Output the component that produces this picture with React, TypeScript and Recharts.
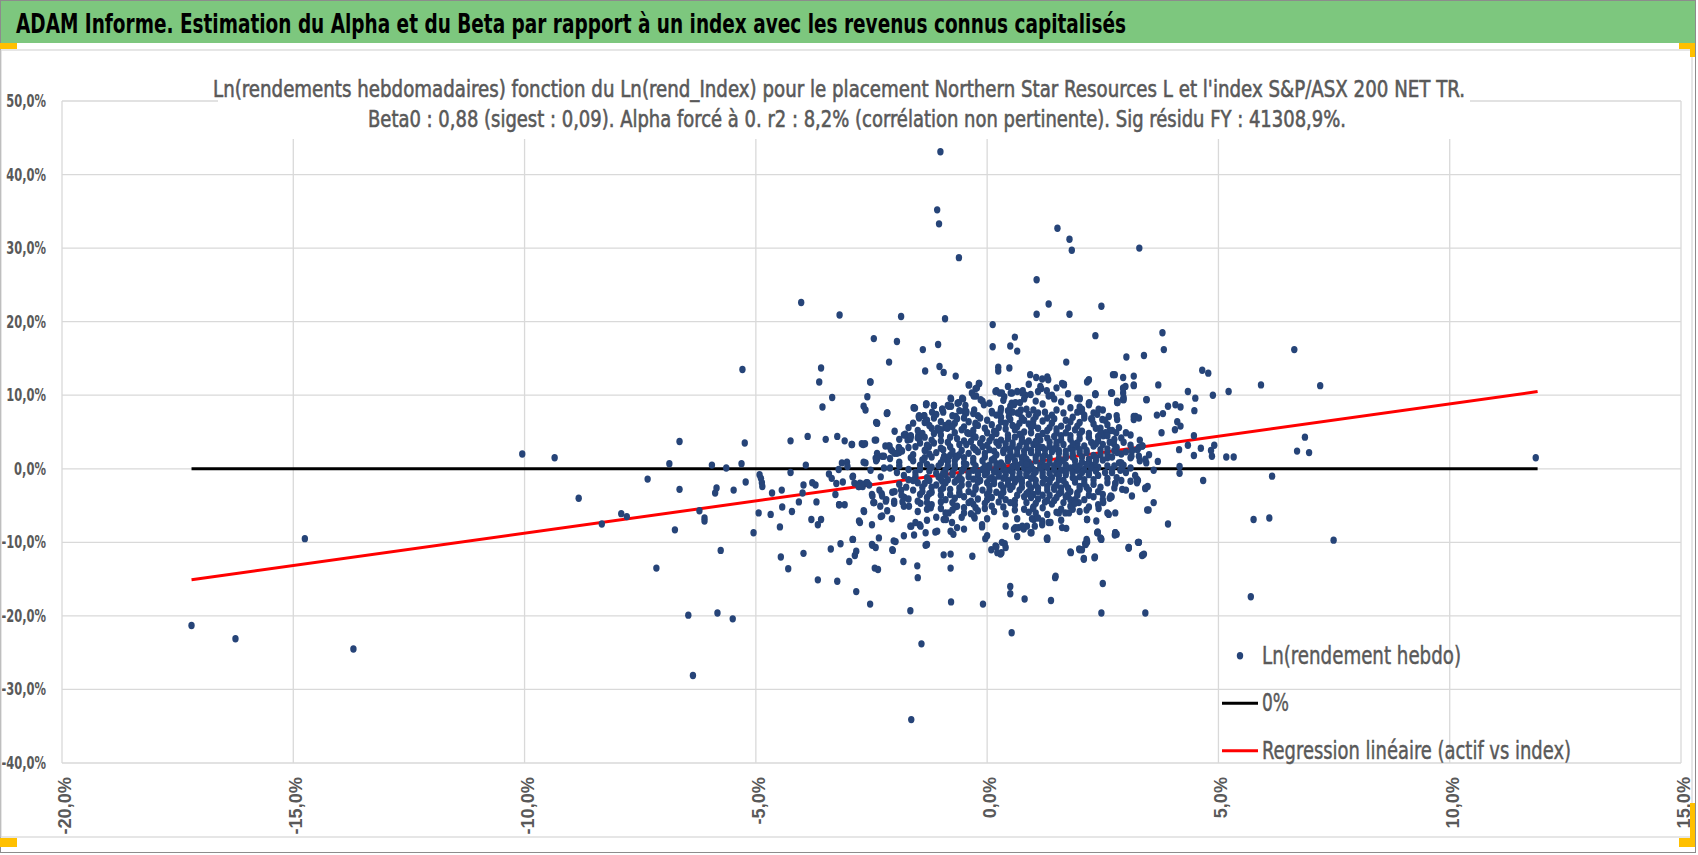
import React from 'react';
import { ScatterChart, Scatter, XAxis, YAxis, CartesianGrid, Legend } from 'recharts';

type P = [number, number];

const xTicks = [-20, -15, -10, -5, 0, 5, 10, 15];
const yTicks = [-40, -30, -20, -10, 0, 10, 20, 30, 40, 50];

const titleText = 'ADAM Informe. Estimation du Alpha et du Beta par rapport à un index avec les revenus connus capitalisés';
const subtitle1 = "Ln(rendements hebdomadaires) fonction du Ln(rend_Index) pour le placement Northern Star Resources L et l'index S&P/ASX 200 NET TR.";
const subtitle2 = 'Beta0 : 0,88 (sigest : 0,09).  Alpha forcé à 0. r2 : 8,2% (corrélation non pertinente). Sig résidu FY : 41308,9%.';
const legendNames = ['Ln(rendement hebdo)', '0%', 'Regression linéaire (actif vs index)'];

// extent of the two lines (index returns, %)
const lineX = [-17.2, 11.9];
const zeroY = [0, 0];
const regY = [-15.1, 10.5];

// weekly log returns (x = index %, y = asset %)
const outliers: P[] = [
  [-17.2, -21.3], [-16.25, -23.1], [-14.75, -9.5], [-13.7, -24.5], [-10.05, 2.0], [-9.35, 1.5], [-8.83, -4.0],
  [-8.33, -7.5], [-7.91, -6.1], [-7.79, -6.5], [-7.34, -1.4], [-7.15, -13.5], [-6.87, 0.7], [-6.65, 3.7],
  [-6.65, -2.8], [-6.75, -8.3], [-6.46, -19.9], [-6.36, -28.1], [-6.22, -5.7], [-6.11, -6.7], [-6.11, -7.1],
  [-1.64, -34.1], [11.86, 1.5], [5.7, -17.4], [7.49, -9.7], [6.64, 16.2], [7.2, 11.3], [5.92, 11.4],
  [6.87, 4.3], [6.7, 2.4], [6.96, 2.2], [6.16, -1.0], [5.76, -6.9], [6.1, -6.7],
];

const leftMid: P[] = [
  [-5.95, 0.5], [-5.88, -3.3], [-5.85, -2.6], [-5.76, -11.1], [-5.83, -19.6], [-5.64, 0.1], [-5.5, -20.4],
  [-5.48, -2.9], [-5.31, 0.7], [-5.24, 3.5], [-5.29, 13.5], [-5.22, -1.8], [-5.05, -8.7], [-4.94, -6.0],
  [-4.92, -0.8], [-4.89, -1.3], [-4.87, -1.9], [-4.86, -2.4], [-4.68, -6.2], [-4.65, -3.3], [-4.48, -7.9],
  [-4.46, -12.0], [-4.44, -2.9], [-4.43, -5.2], [-4.3, -13.6], [-4.25, 3.8], [-4.25, -0.5], [-4.22, -5.8],
  [-4.07, -4.5], [-4.02, 22.6], [-3.99, -3.3], [-3.97, -2.2], [-3.97, -11.5], [-3.92, 0.5], [-3.88, 4.4],
  [-3.8, -6.9], [-3.78, -1.9], [-3.71, -2.2], [-3.69, -4.5], [-3.66, -15.1], [-3.66, -7.6], [-3.59, -6.9],
  [-3.63, 11.8], [-3.59, 13.7], [-3.56, 8.4], [-3.49, 4.0], [-3.42, -0.7], [-3.36, -1.3], [-3.38, -10.9],
  [-3.35, 9.7], [-3.28, -3.5], [-3.26, -2.0], [-3.24, 4.4], [-3.24, -15.3], [-3.21, -0.1], [-3.2, -4.9],
  [-3.19, 20.9], [-3.17, -10.2], [-3.14, 0.8], [-3.03, 0.9], [-3.12, -1.8], [-3.08, -4.9], [-3.08, 3.8],
  [-3.02, 0.3], [-2.98, -12.6], [-2.93, 3.3], [-2.91, -9.6], [-2.91, -1.1], [-2.86, -11.8], [-2.83, -11.2],
  [-2.83, -16.7], [-2.87, -1.95], [-2.75, -1.95], [-2.69, -2.4], [-2.55, -2.2], [-2.68, 3.3],
];

const midLeft: P[] = [
  [-2.78, -2.4], [-2.75, -7.3], [-2.71, 3.4], [-2.66, -5.8], [-2.64, 3.4], [-2.63, 0.8], [-2.61, -1.9],
  [-2.53, -18.4], [-2.48, -10.4], [-2.48, -3.7], [-2.46, -4.6], [-2.43, -13.5], [-2.4, 6.3], [-2.4, 3.9],
  [-2.36, -13.7], [-2.34, -9.4], [-2.3, -6.5], [-2.28, -3.4], [-2.27, 1.7], [-2.18, -4.2], [-2.11, 3.1],
  [-2.06, -6.8], [-2.04, -11.1], [-2.01, -4.4], [-1.98, -9.9], [-1.9, 2.2], [-1.86, -2.9], [-1.81, -12.6],
  [-1.79, -3.9], [-1.76, 4.6], [-1.69, -5.1], [-1.66, -19.3], [-1.64, -7.8], [-1.58, -9.0], [-1.51, -13.2],
  [-1.5, -14.8], [-1.49, 4.5], [-1.46, -7.6], [-1.44, -4.7], [-1.42, -23.8], [-1.36, 7.2], [-1.33, -10.4],
  [-1.3, -7.0], [-1.26, 3.0], [-1.22, -5.3], [-1.12, -8.6], [-1.07, 5.5], [-0.97, -1.7], [-0.94, -11.7],
  [-0.89, -6.9], [-0.79, -13.5], [-0.79, -11.6], [-0.78, -18.1], [-0.73, -8.9], [-0.65, -5.1], [-0.5, -6.0],
  [-0.32, -11.9], [-0.27, -6.7], [-0.11, -7.9], [-0.09, -18.4], [-0.04, -9.5],
  [-2.41, 1.45], [-2.23, 1.7], [-2.08, 2.6], [-1.9, 2.8], [-1.72, 3.9], [-1.65, 4.4], [-1.47, 4.2],
  [-1.33, 2.6], [-1.15, 3.5], [-1.02, 5.1], [-0.86, 5.5], [-0.68, 1.7], [-0.93, 1.7], [-3.2, -4.9],
  [-2.44, -4.6], [-2.19, -4.4], [-2.01, -4.7], [-1.83, -4.5], [-2.05, -3.2], [-2.33, -2.9],
];

const upper: P[] = [
  [-1.01, 43.1], [-1.08, 35.2], [-1.04, 33.3], [-0.61, 28.7], [-1.86, 20.7], [-0.91, 20.4], [-2.45, 17.7],
  [-1.95, 17.3], [-2.53, 11.8], [-2.59, 9.8], [-2.67, 8.5], [-2.63, 8.0], [-2.17, 7.5], [-2.12, 14.5],
  [-1.39, 16.2], [-1.34, 13.3], [-1.06, 16.9], [-1.03, 13.9], [-0.94, 13.1], [-0.68, 12.6], [-0.39, 11.4],
  [-0.25, 10.9], [-0.18, 11.6], [0.12, 19.6], [0.12, 16.6], [0.24, 13.8], [0.24, 13.3], [0.48, 13.7],
  [0.5, 16.7], [0.6, 17.9], [0.65, 16.0], [1.07, 25.7], [1.07, 21.0], [1.33, 22.4], [1.52, 32.7],
  [1.78, 31.2], [1.83, 29.7], [1.78, 21.0], [2.47, 22.1], [2.34, 18.1], [1.71, 14.5], [3.29, 30.0],
  [3.01, 15.2], [3.39, 15.4], [1.66, 11.4], [2.16, 11.8], [2.2, 12.1], [2.72, 12.8], [2.76, 12.8],
  [2.94, 12.4], [3.17, 12.6], [3.17, 11.3], [2.94, 11.0], [2.94, 10.3], [2.94, 9.4], [2.68, 10.3],
  [2.34, 10.1], [2.0, 9.6], [2.2, 8.9], [2.81, 9.0], [3.44, 9.4], [0.93, 12.8], [1.06, 12.4], [1.19, 12.2],
  [1.3, 12.5], [1.32, 12.1], [1.17, 10.9], [1.29, 10.6], [1.4, 10.0], [3.79, 18.5], [3.82, 16.2],
  [0.2, 10.6], [0.27, 10.3], [0.37, 9.8], [0.51, 10.3], [0.65, 10.5], [0.77, 10.6], [0.83, 10.0],
  [0.53, 8.9], [0.58, 8.7], [0.71, 9.0], [0.66, 7.6], [0.73, 8.0], [-0.54, 9.6], [-0.79, 9.6],
  [-0.64, 8.9], [-0.47, 8.6], [-1.58, 8.3], [-1.32, 8.8], [-1.15, 8.6], [-0.97, 8.1], [-0.78, 8.5],
  [-1.47, 7.2], [-1.36, 7.2], [-2.38, 6.2], [-2.16, 7.6], [-2.52, 11.8],
  [-1.56, 8.25], [-1.47, 6.9], [-1.31, 8.8], [-0.78, 9.5], [-0.62, 9.0], [-0.52, 9.5], [-0.45, 7.8],
  [-0.28, 8.0], [-0.24, 9.9], [-0.17, 11.6], [-0.1, 9.2], [-0.33, 10.3],
  [-0.4, 11.4], [-0.29, 9.9], [-0.22, 11.0], [-0.14, 9.4], [-0.07, 8.7], [0.18, 10.5], [0.32, 10.3],
  [0.54, 10.3], [0.76, 10.3], [0.94, 10.1], [1.15, 11.2], [1.33, 9.9], [1.62, 11.6], [1.95, 9.6],
  [2.05, 7.8], [2.38, 7.4], [2.2, 8.7], [2.34, 10.1], [2.7, 10.3], [2.81, 9.2], [2.95, 9.4], [2.99, 11.2],
  [3.17, 11.4], [3.17, 7.1], [2.49, 6.7], [0.47, 7.1], [0.29, 7.8], [0.11, 7.6], [0.61, 9.0],
];

const rightSide: P[] = [
  [5.22, 10.5], [4.65, 13.4], [4.78, 13.0], [4.88, 10.0], [4.34, 10.5], [4.5, 9.6], [4.48, 7.9], [3.7, 11.4],
  [3.45, 9.4], [3.91, 8.5], [4.07, 8.7], [4.18, 8.4], [3.67, 7.3], [3.8, 7.5], [4.06, 5.3], [4.11, 6.4],
  [4.18, 5.8], [3.77, 4.9], [4.47, 4.5], [4.34, 3.2], [4.15, 2.6], [4.47, 1.8], [4.62, 2.8], [4.84, 2.5],
  [4.86, 1.7], [4.91, 3.2], [5.17, 1.6], [5.33, 1.6], [4.67, -1.6], [4.16, 0.3], [4.16, -0.6], [3.69, 1.0],
  [3.44, 0.8], [3.26, -1.6], [3.42, -2.7], [3.47, -2.4], [3.6, -4.6], [3.49, -5.6], [3.91, -7.5],
  [3.06, -10.7], [3.28, -10.0], [3.37, -11.7], [2.77, -8.7], [2.8, -8.9], [2.39, -8.6], [2.46, -9.5],
  [2.15, -9.6], [2.13, -10.3], [1.99, -10.9], [1.8, -11.3], [2.09, -12.2], [2.33, -12.0], [1.48, -14.6],
  [1.3, -9.4], [2.77, -2.0], [2.68, -3.8], [2.65, -4.0],
  [2.94, 10.9], [2.95, 9.7], [2.82, 9.0], [2.69, 10.3], [2.34, 10.2], [2.21, 9.0], [2.0, 9.5], [2.19, 12.0],
  [1.66, 11.5], [2.92, 0.1], [2.88, -0.2], [2.7, -0.5], [2.85, 0.8], [2.81, 2.2], [2.74, 3.4], [2.79, 4.9],
  [2.65, 5.2], [2.56, 4.9], [2.51, 4.5], [2.41, -5.4], [2.36, -7.1], [2.16, -6.9], [2.15, -5.6], [2.51, -4.6],
  [2.69, -3.8], [3.12, 1.7], [3.13, 2.4], [3.28, 2.9], [3.36, 3.1], [3.17, 6.7], [3.21, 7.1], [3.28, 6.9],
  [2.81, 6.7], [2.63, 7.1], [2.41, 8.1], [2.27, 6.7], [2.05, 8.1], [3.1, -1.7], [3.24, -1.9], [3.13, -3.7],
  [2.92, -2.8], [2.77, -6.0], [2.63, -6.2], [1.95, -3.3], [1.8, -4.2], [1.69, -6.0], [1.55, -6.0],
  [1.33, -7.3], [1.19, -7.1], [0.68, -8.0], [0.58, -8.2], [0.4, -10.7], [0.31, -11.4], [0.99, -5.4],
  [1.03, -7.8], [0.96, -8.7], [0.79, -8.2],
  [2.88, 0.8], [3.24, -1.4], [3.42, -2.6], [3.28, 1.7], [3.42, 1.3], [3.13, 2.6], [3.35, 3.1],
  [2.67, -3.7], [2.77, -2.0], [1.98, -4.6], [2.16, -6.9], [1.77, -6.0],
];

const lower: P[] = [
  [0.09, -11.0], [0.2, -10.6], [0.29, -11.6], [0.38, -10.2], [0.5, -16.0], [0.5, -17.0], [0.53, -22.3],
  [0.65, -9.2], [0.81, -17.7], [0.86, -7.8], [0.97, -6.8], [1.29, -9.5], [1.38, -17.9], [1.47, -14.8],
  [1.71, -8.1], [1.81, -11.4], [2.0, -11.0], [2.09, -12.3], [2.12, -10.2], [2.16, -9.8], [2.32, -12.1],
  [2.39, -8.7], [2.47, -9.6], [2.5, -15.6], [2.47, -19.6], [2.76, -9.0], [3.06, -10.8], [3.26, -10.0],
  [3.35, -11.8], [3.42, -19.6], [3.46, -5.6],
  [-2.45, -4.6], [-2.31, -5.1], [-2.16, -5.7], [-2.27, -6.4], [-2.49, -7.6], [-2.67, -5.7], [-2.77, -7.1],
  [-2.9, -9.6], [-2.49, -10.3], [-2.41, -10.7], [-2.05, -11.0], [-2.02, -9.8], [-1.8, -9.1], [-1.66, -7.8],
  [-1.55, -7.3], [-1.44, -7.8], [-1.33, -8.7], [-1.3, -10.3], [-1.08, -8.5], [-0.94, -6.9], [-0.83, -6.0],
  [-0.79, -8.5], [-0.76, -7.3], [-0.65, -8.0], [-0.5, -8.2], [-0.29, -6.4], [-0.25, -5.3], [-0.11, -7.6],
  [0.0, -9.1], [0.18, -10.5], [0.32, -10.0], [0.22, -11.4], [0.4, -7.8], [0.61, -8.0], [0.76, -7.8],
  [0.94, -8.7], [1.01, -6.9], [1.19, -7.6], [1.3, -9.6], [1.37, -7.3], [1.62, -8.0], [2.16, -10.0],
  [2.05, -11.0], [2.38, -8.7], [2.45, -9.4], [2.77, -8.7], [3.06, -10.7], [3.28, -10.0], [3.39, -11.6],
  [-2.38, 2.1], [-2.23, 0.1], [-2.38, 1.3], [-2.52, -0.2], [-2.67, 0.9], [-2.9, -1.0], [-2.77, -2.4],
  [-2.7, -2.1], [-2.59, -1.9], [-2.49, -3.5], [-2.27, -3.7],
  [-1.77, 4.7], [-1.66, 4.0], [-1.59, 8.3], [-1.48, 7.1], [-1.32, 8.7], [-1.15, 8.6], [-1.19, 7.7],
  [-0.97, 8.1], [-0.83, 8.5], [-1.04, 5.3], [-0.9, 5.6], [-0.83, 6.2], [-0.68, 7.1], [-0.61, 9.0],
  [-0.5, 7.8], [-0.25, 6.2], [-0.43, 4.9], [-2.92, 3.3], [-2.43, 3.9], [-2.13, 3.1], [-2.05, 2.4],
  [-1.91, 2.9], [-1.84, 2.4], [-1.95, 2.1], [-2.38, 6.2], [-2.16, 7.6],
];

const coreUpper: P[] = [
  [-1.1, 7.4], [-0.6, 7.9], [-0.2, 7.2], [0.3, 8.2], [0.7, 7.5], [1.0, 8.0], [1.4, 7.3], [1.8, 8.3], [2.3, 7.6],
  [-0.85, 8.6], [0.05, 8.9], [0.5, 8.5], [1.2, 8.8], [1.6, 9.1], [2.0, 8.4],
  [-1.6, 6.2], [-1.3, 6.6], [-0.9, 5.9], [-0.4, 6.4], [0.1, 6.0], [0.5, 6.7], [0.9, 6.1], [1.2, 6.5], [1.6, 5.8],
  [2.0, 6.3], [2.6, 6.0],
  [-1.15, 6.9], [-0.65, 6.8], [-0.15, 6.9], [0.3, 7.0], [0.75, 6.9], [1.05, 7.1], [1.45, 6.8], [1.85, 7.0],
  [2.25, 6.8], [2.8, 7.2],
  [-2.0, 5.1], [-1.4, 4.8], [-1.0, 5.3], [-0.7, 4.9], [-0.3, 5.2], [0.2, 4.8], [0.4, 5.4], [0.8, 5.0], [1.1, 5.5],
  [1.5, 4.9], [1.9, 5.3], [2.2, 4.8], [2.7, 5.2], [3.0, 4.9],
  [-1.7, 5.6], [-1.2, 5.5], [-0.85, 5.6], [-0.5, 5.7], [-0.05, 5.5], [0.65, 5.7], [0.95, 5.6], [1.35, 5.6],
  [1.75, 5.6], [2.45, 5.5],
];

const coreMid: P[] = [
  [-1.9, 4.0], [-1.5, 4.2], [-1.2, 3.9], [-0.8, 4.3], [-0.5, 3.8], [-0.1, 4.1], [0.3, 3.9], [0.6, 4.3], [0.9, 3.8],
  [1.3, 4.2], [1.6, 3.9], [2.0, 4.1], [2.4, 3.8], [2.9, 4.2], [3.3, 3.9],
  [-1.65, 4.5], [-1.0, 4.6], [-0.3, 4.5], [0.45, 4.6], [1.1, 4.4], [1.8, 4.5], [2.6, 4.5],
  [-2.2, 3.1], [-1.7, 2.9], [-1.3, 3.2], [-1.0, 2.8], [-0.6, 3.3], [-0.3, 2.9], [0.0, 3.2], [0.4, 2.8], [0.7, 3.1],
  [1.0, 3.3], [1.2, 2.9], [1.5, 3.2], [1.8, 2.8], [2.1, 3.1], [2.5, 3.3], [2.8, 2.9], [3.1, 3.2],
  [-1.45, 3.5], [-0.85, 3.6], [-0.15, 3.5], [0.2, 3.6], [0.55, 3.5], [0.85, 3.5], [1.35, 3.6], [1.95, 3.5],
  [2.25, 3.6], [2.65, 3.6],
  [-2.0, 2.1], [-1.6, 1.9], [-1.1, 2.2], [-0.8, 1.8], [-0.4, 2.1], [-0.2, 2.3], [0.2, 1.9], [0.5, 2.2], [0.8, 1.8],
  [1.1, 2.1], [1.4, 2.3], [1.7, 1.9], [2.0, 2.2], [2.3, 1.8], [2.6, 2.1], [3.0, 2.3], [3.5, 1.9],
  [-1.35, 2.5], [-0.95, 2.6], [-0.55, 2.5], [0.05, 2.6], [0.35, 2.5], [0.65, 2.6], [0.95, 2.5], [1.25, 2.6],
  [1.55, 2.5], [1.85, 2.6], [2.15, 2.5], [2.45, 2.6], [2.75, 2.5], [3.25, 2.6],
];

const coreLow: P[] = [
  [-2.4, 1.1], [-1.9, 0.9], [-1.4, 1.2], [-1.0, 0.8], [-0.7, 1.1], [-0.3, 0.9], [0.1, 1.2], [0.3, 0.8], [0.6, 1.1],
  [0.9, 0.9], [1.2, 1.2], [1.5, 0.8], [1.9, 1.1], [2.2, 0.9], [2.5, 1.2], [2.9, 0.8], [3.3, 1.1],
  [-1.65, 1.5], [-1.2, 1.6], [-0.85, 1.5], [-0.5, 1.5], [-0.05, 1.6], [0.45, 1.5], [0.75, 1.5], [1.05, 1.6],
  [1.35, 1.5], [1.7, 1.5], [2.05, 1.6], [2.35, 1.5], [2.7, 1.6], [3.1, 1.5],
  [-2.1, 0.1], [-1.7, -0.1], [-1.2, 0.2], [-0.9, -0.2], [-0.5, 0.1], [-0.1, -0.1], [0.2, 0.2], [0.5, -0.2],
  [0.8, 0.1], [1.0, -0.1], [1.3, 0.2], [1.6, -0.2], [1.8, 0.1], [2.1, -0.1], [2.4, 0.2], [2.7, -0.1], [3.1, 0.1],
  [3.6, -0.2],
  [-1.45, 0.5], [-1.05, 0.4], [-0.7, 0.5], [-0.25, 0.4], [0.05, 0.5], [0.35, 0.4], [0.65, 0.5], [0.95, 0.4],
  [1.15, 0.5], [1.45, 0.4], [1.7, 0.5], [2.0, 0.4], [2.3, 0.5], [2.6, 0.4], [2.95, 0.5],
  [-2.3, -1.1], [-1.8, -0.9], [-1.3, -1.2], [-0.9, -0.8], [-0.6, -1.1], [-0.2, -0.9], [0.1, -1.2], [0.4, -0.8],
  [0.7, -1.1], [1.0, -0.9], [1.4, -1.2], [1.7, -0.8], [2.0, -1.1], [2.4, -0.9], [2.8, -1.2], [3.2, -0.9],
  [-1.55, -0.5], [-1.1, -0.6], [-0.75, -0.5], [-0.4, -0.6], [0.0, -0.5], [0.25, -0.6], [0.55, -0.5],
  [0.85, -0.6], [1.2, -0.5], [1.5, -0.6], [1.85, -0.5], [2.2, -0.6], [2.55, -0.5],
];

const coreNeg: P[] = [
  [-1.9, -2.1], [-1.5, -1.9], [-1.1, -2.2], [-0.7, -1.8], [-0.4, -2.1], [0.0, -1.9], [0.3, -2.2], [0.6, -1.8],
  [0.9, -2.1], [1.2, -1.9], [1.5, -2.2], [1.9, -1.8], [2.3, -2.1], [2.6, -1.9],
  [-1.7, -1.5], [-1.25, -1.6], [-0.85, -1.5], [-0.55, -1.5], [-0.15, -1.6], [0.15, -1.5], [0.45, -1.6],
  [0.75, -1.5], [1.05, -1.6], [1.35, -1.5], [1.65, -1.6], [2.1, -1.5], [2.9, -1.6],
  [-2.0, -3.1], [-1.6, -2.9], [-1.2, -3.2], [-0.8, -2.8], [-0.4, -3.1], [-0.1, -2.9], [0.2, -3.2], [0.5, -2.8],
  [0.9, -3.1], [1.3, -2.9], [1.6, -3.2], [2.0, -2.8], [2.4, -3.1], [3.0, -2.9],
  [-1.4, -2.5], [-0.95, -2.6], [-0.25, -2.5], [0.35, -2.6], [0.75, -2.5], [1.1, -2.6], [1.45, -2.5],
  [1.75, -2.6], [2.15, -2.5],
  [-1.7, -4.1], [-1.3, -3.9], [-0.9, -4.2], [-0.5, -3.8], [-0.2, -4.1], [0.1, -3.9], [0.4, -4.2], [0.8, -3.8],
  [1.1, -4.1], [1.5, -3.9], [1.9, -4.2], [2.3, -3.8],
  [-1.45, -3.5], [-1.0, -3.6], [-0.6, -3.5], [0.0, -3.5], [0.65, -3.6], [1.0, -3.5], [1.35, -3.6], [1.75, -3.5],
  [2.2, -3.6],
  [-1.8, -5.1], [-1.2, -4.9], [-0.7, -5.2], [-0.3, -4.8], [0.1, -5.1], [0.6, -4.9], [1.0, -5.2], [1.4, -4.8],
  [1.8, -5.1], [2.4, -4.9],
  [-1.0, -4.5], [-0.4, -4.6], [0.25, -4.5], [0.85, -4.6], [1.25, -4.5], [1.65, -4.6],
  [-1.5, -5.8], [-0.9, -6.0], [-0.2, -5.7], [0.4, -6.1], [0.9, -5.9], [1.3, -6.2], [2.0, -5.8], [2.6, -6.0],
];

const coreFill: P[] = [
  [-0.95, 7.7], [-0.45, 7.6], [0.1, 7.8], [0.55, 7.7], [0.9, 7.4], [1.25, 7.7], [1.65, 7.6], [2.1, 7.3],
  [-1.35, 6.3], [-0.7, 6.2], [-0.25, 6.0], [0.3, 6.4], [0.7, 6.2], [1.0, 6.6], [1.4, 6.2], [1.8, 6.4], [2.3, 6.1],
  [-1.5, 5.2], [-0.55, 5.3], [0.0, 4.9], [0.6, 5.3], [0.95, 4.9], [1.3, 5.2], [1.7, 4.9], [2.05, 5.1], [2.45, 4.9],
  [-1.35, 4.3], [-0.65, 4.1], [-0.25, 4.3], [0.1, 4.3], [0.45, 4.1], [0.75, 4.2], [1.15, 3.9], [1.45, 4.4],
  [1.8, 4.0], [2.2, 4.3], [2.75, 4.0],
  [-1.55, 3.0], [-0.8, 3.0], [-0.45, 3.3], [-0.1, 3.0], [0.25, 3.2], [0.55, 3.1], [0.85, 2.9], [1.1, 3.1],
  [1.35, 3.0], [1.65, 3.3], [1.95, 3.0], [2.3, 3.1],
  [-1.25, 2.0], [-0.6, 1.9], [-0.05, 2.1], [0.35, 2.2], [0.65, 2.0], [0.95, 2.2], [1.25, 1.9], [1.55, 2.1],
  [1.85, 2.0], [2.15, 2.2], [2.45, 1.9],
  [-1.6, 1.1], [-0.85, 1.0], [-0.5, 0.8], [-0.1, 1.1], [0.2, 0.7], [0.45, 1.1], [0.75, 0.8], [1.05, 1.1],
  [1.35, 0.8], [1.65, 1.1], [2.05, 0.9], [2.35, 1.1],
  [-1.45, -0.1], [-0.7, 0.1], [-0.3, -0.2], [0.05, 0.2], [0.35, -0.1], [0.65, 0.2], [0.9, -0.2], [1.15, 0.1],
  [1.45, -0.1], [1.7, 0.2], [1.95, -0.2], [2.25, 0.1],
  [-1.55, -1.0], [-1.05, -1.1], [-0.75, -0.8], [-0.4, -1.1], [-0.05, -0.8], [0.25, -1.0], [0.55, -1.2],
  [0.85, -0.9], [1.2, -1.0], [1.55, -0.9], [1.85, -1.2], [2.2, -0.8],
  [-1.35, -2.0], [-0.9, -1.9], [-0.55, -2.2], [-0.2, -1.8], [0.15, -2.0], [0.45, -2.1], [0.75, -1.9],
  [1.05, -2.2], [1.35, -1.8], [1.7, -2.1], [2.1, -2.0],
  [-1.4, -3.1], [-1.0, -2.9], [-0.6, -3.2], [-0.25, -2.8], [0.05, -3.0], [0.35, -3.2], [0.7, -2.9], [1.1, -3.1],
  [1.45, -2.8], [1.8, -3.1], [2.2, -2.9],
  [-1.5, -4.4], [-0.7, -4.0], [-0.35, -4.4], [0.0, -4.2], [0.3, -3.7], [0.6, -4.3], [0.95, -3.9], [1.3, -4.3],
  [1.7, -3.8], [2.1, -4.2],
  [-1.0, -5.4], [-0.5, -5.3], [-0.05, -5.4], [0.35, -5.2], [0.8, -5.5], [1.2, -5.3], [1.6, -5.5], [2.2, -5.2],
];

const coreFill2: P[] = [
  [-0.75, 7.2], [-0.3, 7.5], [0.2, 7.3], [0.45, 7.9], [0.85, 8.1], [1.1, 7.6], [1.5, 8.0], [1.95, 7.7], [2.5, 8.0],
  [0.35, 9.3], [0.8, 9.5], [1.05, 9.2], [1.45, 9.5], [1.75, 10.2], [1.1, 10.5], [0.45, 11.2], [0.9, 11.5], [1.5, 11.0],
  [-1.0, 6.4], [-0.5, 6.9], [0.0, 6.6], [0.4, 6.2], [0.8, 6.6], [1.3, 6.9], [1.7, 6.6], [2.1, 6.9], [2.55, 6.6],
  [-1.25, 5.9], [-0.75, 5.7], [-0.2, 5.9], [0.25, 5.6], [0.55, 5.9], [1.0, 5.9], [1.5, 5.4], [1.95, 5.8],
  [2.35, 5.5], [2.85, 5.6],
  [-1.8, 4.6], [-1.15, 4.8], [-0.4, 4.8], [0.15, 5.1], [0.7, 4.7], [1.2, 4.8], [1.6, 4.5], [2.0, 4.7], [2.4, 4.4],
  [3.1, 4.6],
  [-1.0, 3.8], [-0.35, 3.7], [0.05, 3.8], [0.4, 3.4], [0.75, 3.7], [1.05, 3.7], [1.5, 3.6], [1.85, 3.4],
  [2.35, 3.4], [2.95, 3.6],
  [-1.85, 2.5], [-0.75, 2.4], [-0.25, 2.6], [0.15, 2.4], [0.5, 2.7], [0.8, 2.4], [1.1, 2.6], [1.45, 2.7],
  [1.7, 2.4], [2.0, 2.6], [2.6, 2.7], [2.9, 2.0],
  [-2.1, 1.4], [-1.35, 1.5], [-0.95, 1.3], [-0.65, 1.6], [-0.3, 1.4], [0.15, 1.4], [0.55, 1.6], [0.85, 1.3],
  [1.2, 1.6], [1.55, 1.4], [1.85, 1.6], [2.2, 1.3], [2.6, 1.5],
  [-1.9, 0.4], [-1.3, 0.6], [-0.85, 0.4], [-0.45, 0.6], [-0.05, 0.4], [0.25, 0.6], [0.55, 0.3], [0.85, 0.6],
  [1.25, 0.4], [1.55, 0.6], [1.9, 0.4], [2.15, 0.6], [2.75, 0.4],
  [-1.95, -0.5], [-1.25, -0.3], [-0.95, -0.6], [-0.55, -0.3], [-0.2, -0.5], [0.15, -0.4], [0.4, -0.3],
  [0.7, -0.6], [1.05, -0.4], [1.35, -0.6], [1.7, -0.4], [2.05, -0.5], [2.35, -0.3], [3.0, -0.5],
  [-1.6, -1.6], [-1.0, -1.4], [-0.65, -1.5], [-0.3, -1.4], [0.05, -1.4], [0.35, -1.3], [0.65, -1.4],
  [0.95, -1.3], [1.25, -1.4], [1.55, -1.5], [1.9, -1.4], [2.3, -1.5], [2.6, -1.3],
  [-1.75, -2.5], [-1.2, -2.5], [-0.6, -2.6], [0.05, -2.4], [0.55, -2.4], [0.95, -2.6], [1.3, -2.4], [1.6, -2.6],
  [2.0, -2.4], [2.45, -2.5], [2.75, -2.6],
  [-1.85, -3.6], [-1.25, -3.4], [-0.8, -3.5], [-0.3, -3.4], [0.3, -3.5], [0.85, -3.4], [1.2, -3.6], [1.55, -3.4],
  [1.95, -3.6], [2.5, -3.5],
  [-1.3, -4.6], [-0.75, -4.6], [-0.05, -4.7], [0.5, -4.6], [1.05, -4.7], [1.45, -4.3], [1.9, -4.7], [2.5, -4.2],
  [-1.3, -5.5], [-0.75, -5.6], [-0.35, -6.1], [0.15, -5.8], [0.6, -5.6], [1.05, -6.0], [1.5, -5.9], [1.85, -5.5],
  [-0.55, -6.6], [0.0, -6.8], [0.65, -6.8], [1.1, -6.7], [1.6, -7.0], [-1.1, -6.6],
];

const toXY = (arr: P[]) => arr.map(([x, y]) => ({ x, y }));
const returnsData = toXY([
  ...outliers, ...leftMid, ...midLeft, ...upper, ...rightSide, ...lower,
  ...coreUpper, ...coreMid, ...coreLow, ...coreNeg, ...coreFill, ...coreFill2,
]);
const zeroData = lineX.map((x, i) => ({ x, y: zeroY[i] }));
const regData = lineX.map((x, i) => ({ x, y: regY[i] }));

const fmt = (v: number) => `${v.toFixed(1).replace('.', ',')}%`;

const NARROW = '"Liberation Sans Narrow", "DejaVu Sans Condensed", "Open Sans", sans-serif';
const GRAY = '#595959';
const DOT = '#264478';

// approximate advance widths (em) of a narrow bold face, used to size tick texts
const charW = (c: string) => (c === '-' ? 0.28 : c === ',' ? 0.23 : c === '%' ? 0.73 : 0.46);
const narrowWidth = (s: string, size: number) => s.split('').reduce((a, c) => a + charW(c), 0) * size;

const DotShape = (props: any) => {
  const { cx, cy } = props;
  if (cx == null || cy == null) return <g />;
  return <ellipse cx={cx} cy={cy} rx={3.2} ry={3.7} fill={DOT} />;
};
const NoShape = () => <g />;

const XTick = (props: any) => {
  const { x, y, payload } = props;
  const label = fmt(payload.value);
  return (
    <text
      x={x}
      y={y}
      dy={9}
      transform={`rotate(-90 ${x} ${y})`}
      textAnchor="end"
      fill={GRAY}
      fontFamily='"Liberation Sans", Arial, sans-serif'
      fontWeight="bold"
      fontSize={18}
      textLength={narrowWidth(label, 18) * 1.22}
      lengthAdjust="spacingAndGlyphs"
    >
      {label}
    </text>
  );
};

const YTick = (props: any) => {
  const { x, y, payload } = props;
  const label = fmt(payload.value);
  return (
    <text
      x={x}
      y={y}
      dy={6}
      textAnchor="end"
      fill={GRAY}
      fontFamily={NARROW}
      fontWeight="bold"
      fontSize={17}
      textLength={narrowWidth(label, 17)}
      lengthAdjust="spacingAndGlyphs"
    >
      {label}
    </text>
  );
};

const legendTextWidths = [199, 27, 309];

const renderLegend = () => (
  <svg width={470} height={145}>
    {legendNames.map((name, i) => {
      const cy = 23.75 + i * 47.5;
      return (
        <g key={name}>
          {i === 0 ? (
            <ellipse cx={22} cy={cy} rx={3.2} ry={3.7} fill={DOT} />
          ) : (
            <line x1={4} x2={40} y1={cy} y2={cy} stroke={i === 1 ? '#000' : '#ff0000'} strokeWidth={3} />
          )}
          <text
            x={44}
            y={cy + 8}
            fontFamily={NARROW}
            fontSize={25}
            fill={GRAY}
            stroke={GRAY}
            strokeWidth={0.45}
            textLength={legendTextWidths[i]}
            lengthAdjust="spacingAndGlyphs"
          >
            {name}
          </text>
        </g>
      );
    })}
  </svg>
);

export default function App() {
  return (
    <div style={{ position: 'absolute', left: 0, top: 0, width: 1698, height: 855, background: '#fff', overflow: 'hidden' }}>
      <ScatterChart width={1698} height={855} margin={{ top: 101, right: 17, bottom: 0, left: 0 }}>
        <CartesianGrid stroke="#d9d9d9" strokeWidth={1.3} />
        <XAxis
          type="number"
          dataKey="x"
          domain={[-20, 15]}
          ticks={xTicks}
          interval={0}
          axisLine={false}
          tickLine={false}
          tickSize={0}
          tickMargin={14}
          height={92}
          tick={<XTick />}
        />
        <YAxis
          type="number"
          dataKey="y"
          domain={[-40, 50]}
          ticks={yTicks}
          interval={0}
          axisLine={false}
          tickLine={false}
          tickSize={0}
          tickMargin={16}
          width={62}
          tick={<YTick />}
        />
        <Scatter name="0%" data={zeroData} line={{ stroke: '#000', strokeWidth: 3 }} shape={NoShape} isAnimationActive={false} />
        <Scatter name="Regression linéaire (actif vs index)" data={regData} line={{ stroke: '#ff0000', strokeWidth: 3 }} shape={NoShape} isAnimationActive={false} />
        <Scatter name="Ln(rendement hebdo)" data={returnsData} shape={DotShape} fill={DOT} isAnimationActive={false} />
        <Legend
          layout="vertical"
          align="center"
          verticalAlign="middle"
          content={renderLegend}
          wrapperStyle={{ left: 1218, top: 632, width: 470, height: 145 }}
        />
      </ScatterChart>
      <svg width={1698} height={855} style={{ position: 'absolute', left: 0, top: 0, pointerEvents: 'none' }}>
        <rect x={0.5} y={0.5} width={1695} height={852} fill="none" stroke="#8c8c8c" strokeWidth={1} />
        <rect x={1} y={1} width={1694} height={42} fill="#7DC77E" />
        <rect x={1} y={50} width={1691} height={787} fill="none" stroke="#d9d9d9" strokeWidth={1.3} />
        <rect x={0} y={43} width={17} height={6} fill="#FFC000" />
        <rect x={1679} y={43} width={16} height={6} fill="#FFC000" />
        <rect x={1690} y={43} width={5} height={14} fill="#FFC000" />
        <rect x={0} y={838} width={17} height={9} fill="#FFC000" />
        <rect x={1679} y={838} width={16} height={9} fill="#FFC000" />
        <rect x={1690} y={803} width={5} height={44} fill="#FFC000" />
        <text x={16} y={33} fontFamily={NARROW} fontWeight="bold" fontSize={26} fill="#000" textLength={1110} lengthAdjust="spacingAndGlyphs">
          {titleText}
        </text>
        <rect x={218} y={62} width={1252} height={77} fill="#fff" />
        <text x={213} y={97} fontFamily={NARROW} fontSize={23} fill={GRAY} stroke={GRAY} strokeWidth={0.55} textLength={1252} lengthAdjust="spacingAndGlyphs">
          {subtitle1}
        </text>
        <text x={368} y={127} fontFamily={NARROW} fontSize={23} fill={GRAY} stroke={GRAY} strokeWidth={0.55} textLength={978} lengthAdjust="spacingAndGlyphs">
          {subtitle2}
        </text>
      </svg>
    </div>
  );
}
